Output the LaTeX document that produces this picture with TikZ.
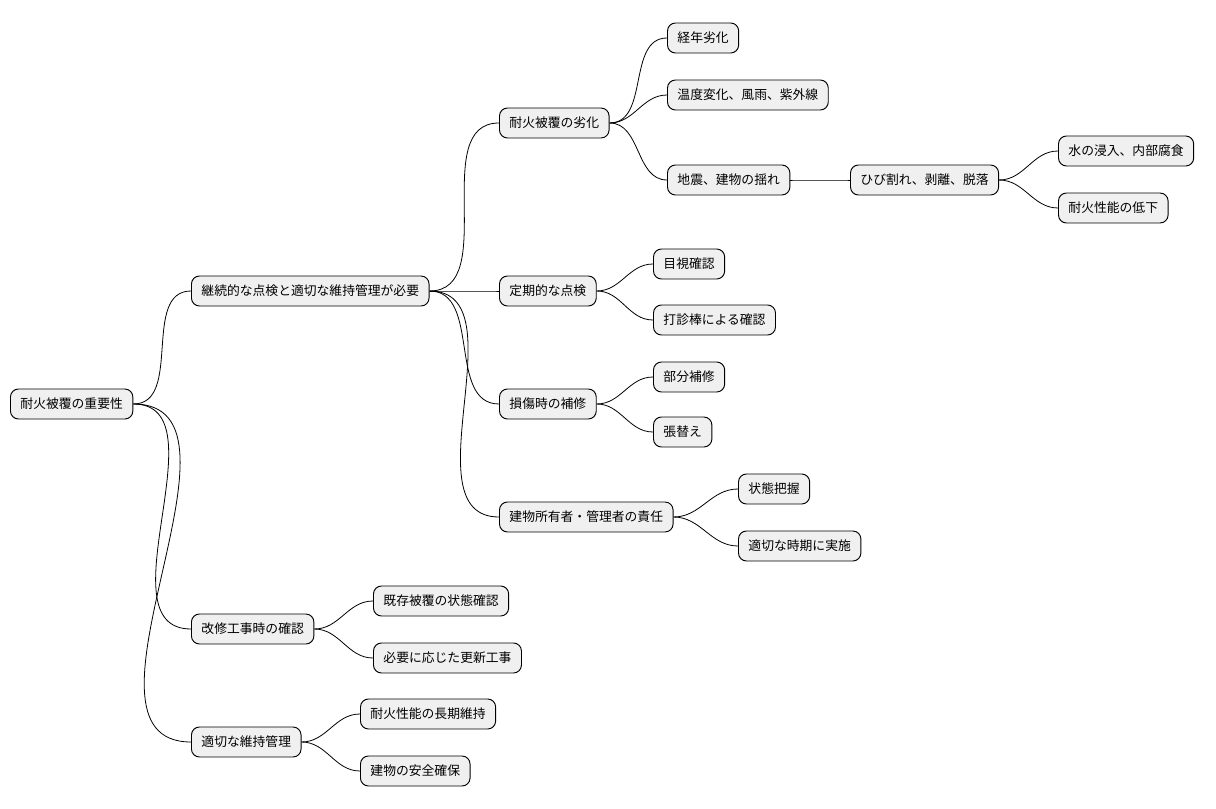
\documentclass[tikz,border=0pt]{standalone}
\usepackage{fontspec}
\newfontfamily\cjk{Noto Sans CJK JP}
\begin{document}
\begin{tikzpicture}[x=0.75pt,y=-0.75pt,
  box/.style={draw=black,fill=black!6,rounded corners=6pt,anchor=west,minimum height=22.5pt,inner xsep=7.5pt,font=\cjk\fontsize{9.6}{11}\selectfont,line width=0.7pt},
  e/.style={draw=black,line width=0.6pt}]
\useasboundingbox (0,0) rectangle (1216,809);
\node[box] (r) at (10,404) {耐火被覆の重要性};
\node[box] (a) at (191,291) {継続的な点検と適切な維持管理が必要};
\node[box] (a1) at (499,123) {耐火被覆の劣化};
\node[box] (a11) at (667,38) {経年劣化};
\node[box] (a12) at (667,95) {温度変化、風雨、紫外線};
\node[box] (a13) at (667,180) {地震、建物の揺れ};
\node[box] (a131) at (850,180) {ひび割れ、剥離、脱落};
\node[box] (a1311) at (1058,151) {水の浸入、内部腐食};
\node[box] (a1312) at (1058,208) {耐火性能の低下};
\node[box] (a2) at (499,291) {定期的な点検};
\node[box] (a21) at (653,264) {目視確認};
\node[box] (a22) at (653,320) {打診棒による確認};
\node[box] (a3) at (499,404) {損傷時の補修};
\node[box] (a31) at (653,377) {部分補修};
\node[box] (a32) at (653,432) {張替え};
\node[box] (a4) at (499,517) {建物所有者・管理者の責任};
\node[box] (a41) at (738,489) {状態把握};
\node[box] (a42) at (738,546) {適切な時期に実施};
\node[box] (b) at (191,629) {改修工事時の確認};
\node[box] (b1) at (373,601) {既存被覆の状態確認};
\node[box] (b2) at (373,658) {必要に応じた更新工事};
\node[box] (c) at (191,742) {適切な維持管理};
\node[box] (c1) at (360,714) {耐火性能の長期維持};
\node[box] (c2) at (360,771) {建物の安全確保};
\foreach \p/\c in {r/a,r/b,r/c,a/a1,a/a2,a/a3,a/a4,a1/a11,a1/a12,a1/a13,a13/a131,a131/a1311,a131/a1312,a2/a21,a2/a22,a3/a31,a3/a32,a4/a41,a4/a42,b/b1,b/b2,c/c1,c/c2}
  \draw[e] (\p.east) to[out=0,in=180] (\c.west);
\end{tikzpicture}
\end{document}
